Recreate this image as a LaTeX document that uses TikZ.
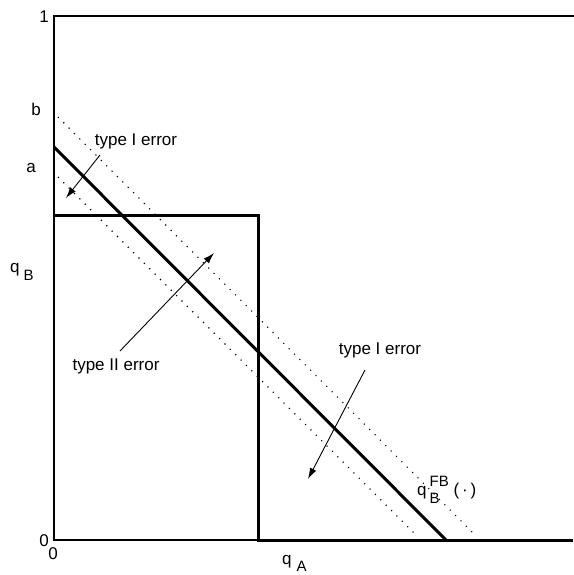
\documentclass[tikz,border=0pt]{standalone}
\usepackage{fontspec}
\setmainfont{Liberation Sans}
\usetikzlibrary{arrows.meta}

\newcommand{\subsz}{\fontsize{15}{15}\selectfont}

\begin{document}
\begin{tikzpicture}[
  x=1pt, y=-1pt,
  font=\fontsize{17}{20}\selectfont, >={Latex[length=11pt,width=7pt]},
  frame/.style={draw=black, line cap=rect},
  sched/.style={draw=black, line width=3pt, line join=miter},
  bound/.style={draw=black, line width=1.1pt, dash pattern=on 1.1pt off 6.5pt},
  flow/.style={->, line width=0.9pt, draw=black},
  lbl/.style={inner sep=0pt},
]
\useasboundingbox (0,0) rectangle (573,575);
% ---------------------------------------------------------------- frame
\coordinate (o) at (54,540);
\coordinate (ytop) at (54,16);
\coordinate (rtop) at (573,16);
\coordinate (rbot) at (573,540);
\coordinate (kink) at (258,540);
\draw[frame, line width=1.6pt] (o) -- (kink);
\draw[frame, line width=2.6pt] (o) -- (ytop);
\draw[frame, line width=2.2pt] (ytop) -- (rtop);

% ---------------------------------------------------------------- schedules
\coordinate (rl) at (54,215);
\coordinate (rc) at (258,215);
\draw[sched] (rl) -- (rc) -- (kink) -- (rbot);

\coordinate (fb0) at (54,147);
\coordinate (fb1) at (446,540);
\draw[sched] (fb0) -- (fb1);

\coordinate (hi0) at (58,117);
\coordinate (hi1) at (475,535);
\draw[bound] (hi0) -- (hi1);
\coordinate (lo0) at (58,177);
\coordinate (lo1) at (416,535);
\draw[bound] (lo0) -- (lo1);

% ---------------------------------------------------------------- axis labels
\node[lbl] (one) at (44,17) {1};
\node[lbl] (b) at (36,109) {b};
\node[lbl] (a) at (31,168) {a};
\node[lbl] (zy) at (44,541) {0};
\node[lbl] (zx) at (53,554) {0};
\node[lbl, anchor=base west] (qB) at (10,272) {q\hspace{4pt}\raisebox{-8pt}{\subsz B}};
\node[lbl, anchor=base west] (qA) at (282,564) {q\hspace{5pt}\raisebox{-7pt}{\subsz A}};
\node[lbl, anchor=base west] (qFB) at (417,495)
  {q\hspace{3pt}\rlap{\raisebox{9pt}{\subsz FB}}\raisebox{-8pt}{\subsz B}\hspace{14pt}(\,·\,)};

% ---------------------------------------------------------------- errors
\node[lbl] (err1) at (136,141) {type I error};
\coordinate (e1a) at (100,155);
\coordinate (e1b) at (66,198);
\draw[flow] (e1a) -- (e1b);

\node[lbl] (err2) at (116,366) {type II error};
\coordinate (e2a) at (120,351);
\coordinate (e2b) at (214,253);
\draw[flow] (e2a) -- (e2b);

\node[lbl] (err3) at (380,350) {type I error};
\coordinate (e3a) at (365,370);
\coordinate (e3b) at (308,479);
\draw[flow] (e3a) -- (e3b);
\end{tikzpicture}
\end{document}
